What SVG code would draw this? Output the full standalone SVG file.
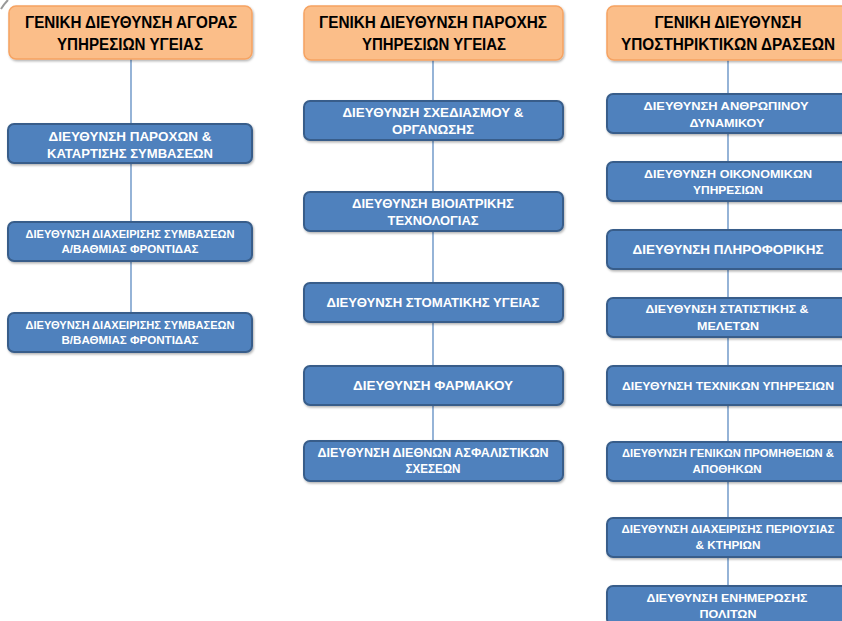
<svg xmlns="http://www.w3.org/2000/svg" width="842" height="621" viewBox="0 0 842 621">
<defs>
<filter id="sh" x="-5%" y="-10%" width="110%" height="130%">
<feDropShadow dx="1" dy="1.5" stdDeviation="1.2" flood-color="#000" flood-opacity="0.3"/>
</filter>
</defs>
<style>
.hd{fill:#FBBE89;stroke:#F6A362;stroke-width:1.5;filter:url(#sh)}
.bx{fill:#4F81BD;stroke:#385D8A;stroke-width:2;filter:url(#sh)}
.ht{font-family:"Liberation Sans",Arial,sans-serif;font-weight:bold;font-size:16px;fill:#000;text-anchor:middle}
.bt{font-family:"Liberation Sans",Arial,sans-serif;font-weight:bold;font-size:13.5px;fill:#fff;text-anchor:middle}
.st{font-family:"Liberation Sans",Arial,sans-serif;font-weight:bold;font-size:11px;fill:#fff;text-anchor:middle}
.cn{stroke:#4F81BD;stroke-width:1.2;fill:none}
</style>
<rect width="842" height="621" fill="#fff"/>
<path d="M1,9 Q4,4 8,0" stroke="#9a9a9a" stroke-width="2" fill="none"/>
<g id="connectors">
<line class="cn" x1="131" y1="59" x2="131" y2="124"/>
<line class="cn" x1="131" y1="163" x2="131" y2="222"/>
<line class="cn" x1="131" y1="261" x2="131" y2="313"/>
<line class="cn" x1="433" y1="60" x2="433" y2="101"/>
<line class="cn" x1="433" y1="140" x2="433" y2="192"/>
<line class="cn" x1="433" y1="231" x2="433" y2="283"/>
<line class="cn" x1="433" y1="322" x2="433" y2="366"/>
<line class="cn" x1="433" y1="405" x2="433" y2="441"/>
<line class="cn" x1="728" y1="60" x2="728" y2="94"/>
<line class="cn" x1="728" y1="133" x2="728" y2="162"/>
<line class="cn" x1="728" y1="201" x2="728" y2="230"/>
<line class="cn" x1="728" y1="269" x2="728" y2="298"/>
<line class="cn" x1="728" y1="337" x2="728" y2="366"/>
<line class="cn" x1="728" y1="405" x2="728" y2="442"/>
<line class="cn" x1="728" y1="481" x2="728" y2="518"/>
<line class="cn" x1="728" y1="557" x2="728" y2="586"/>
</g>
<!-- Column 1 -->
<g id="h1"><rect class="hd" x="9" y="6" width="243" height="53" rx="7"/>
<text class="ht" x="131" y="28" textLength="212" lengthAdjust="spacingAndGlyphs">ΓΕΝΙΚΗ ΔΙΕΥΘΥΝΣΗ ΑΓΟΡΑΣ</text>
<text class="ht" x="130" y="50" textLength="146" lengthAdjust="spacingAndGlyphs">ΥΠΗΡΕΣΙΩΝ ΥΓΕΙΑΣ</text></g>
<g id="n1a"><rect class="bx" x="8" y="124" width="244" height="39" rx="6"/>
<text class="bt" x="130" y="141" textLength="163" lengthAdjust="spacingAndGlyphs">ΔΙΕΥΘΥΝΣΗ ΠΑΡΟΧΩΝ &amp;</text>
<text class="bt" x="130" y="158" textLength="166" lengthAdjust="spacingAndGlyphs">ΚΑΤΑΡΤΙΣΗΣ ΣΥΜΒΑΣΕΩΝ</text></g>
<g id="n1b"><rect class="bx" x="8" y="222" width="244" height="39" rx="6"/>
<text class="st" x="130" y="238" textLength="209" lengthAdjust="spacingAndGlyphs">ΔΙΕΥΘΥΝΣΗ ΔΙΑΧΕΙΡΙΣΗΣ ΣΥΜΒΑΣΕΩΝ</text>
<text class="st" x="130" y="253" textLength="137" lengthAdjust="spacingAndGlyphs">Α/ΒΑΘΜΙΑΣ ΦΡΟΝΤΙΔΑΣ</text></g>
<g id="n1c"><rect class="bx" x="8" y="313" width="244" height="39" rx="6"/>
<text class="st" x="130" y="329" textLength="209" lengthAdjust="spacingAndGlyphs">ΔΙΕΥΘΥΝΣΗ ΔΙΑΧΕΙΡΙΣΗΣ ΣΥΜΒΑΣΕΩΝ</text>
<text class="st" x="130" y="344" textLength="137" lengthAdjust="spacingAndGlyphs">Β/ΒΑΘΜΙΑΣ ΦΡΟΝΤΙΔΑΣ</text></g>
<!-- Column 2 -->
<g id="h2"><rect class="hd" x="304" y="6" width="259" height="54" rx="7"/>
<text class="ht" x="433" y="28" textLength="228" lengthAdjust="spacingAndGlyphs">ΓΕΝΙΚΗ ΔΙΕΥΘΥΝΣΗ ΠΑΡΟΧΗΣ</text>
<text class="ht" x="434" y="50" textLength="144" lengthAdjust="spacingAndGlyphs">ΥΠΗΡΕΣΙΩΝ ΥΓΕΙΑΣ</text></g>
<g id="n2a"><rect class="bx" x="304" y="101" width="259" height="39" rx="6"/>
<text class="bt" x="433" y="117" textLength="181" lengthAdjust="spacingAndGlyphs">ΔΙΕΥΘΥΝΣΗ ΣΧΕΔΙΑΣΜΟΥ &amp;</text>
<text class="bt" x="433" y="134" textLength="82" lengthAdjust="spacingAndGlyphs">ΟΡΓΑΝΩΣΗΣ</text></g>
<g id="n2b"><rect class="bx" x="304" y="192" width="259" height="39" rx="6"/>
<text class="bt" x="433" y="208" textLength="162" lengthAdjust="spacingAndGlyphs">ΔΙΕΥΘΥΝΣΗ ΒΙΟΙΑΤΡΙΚΗΣ</text>
<text class="bt" x="433" y="225" textLength="91" lengthAdjust="spacingAndGlyphs">ΤΕΧΝΟΛΟΓΙΑΣ</text></g>
<g id="n2c"><rect class="bx" x="304" y="283" width="259" height="39" rx="6"/>
<text class="bt" x="433" y="307" textLength="213" lengthAdjust="spacingAndGlyphs">ΔΙΕΥΘΥΝΣΗ ΣΤΟΜΑΤΙΚΗΣ ΥΓΕΙΑΣ</text></g>
<g id="n2d"><rect class="bx" x="304" y="366" width="259" height="39" rx="6"/>
<text class="bt" x="433" y="390" textLength="160" lengthAdjust="spacingAndGlyphs">ΔΙΕΥΘΥΝΣΗ ΦΑΡΜΑΚΟΥ</text></g>
<g id="n2e"><rect class="bx" x="304" y="441" width="259" height="40" rx="6"/>
<text class="bt" x="433" y="457" textLength="231" lengthAdjust="spacingAndGlyphs">ΔΙΕΥΘΥΝΣΗ ΔΙΕΘΝΩΝ ΑΣΦΑΛΙΣΤΙΚΩΝ</text>
<text class="bt" x="433" y="473" textLength="55" lengthAdjust="spacingAndGlyphs">ΣΧΕΣΕΩΝ</text></g>
<!-- Column 3 -->
<g id="h3"><rect class="hd" x="607" y="6" width="243" height="54" rx="7"/>
<text class="ht" x="728" y="28" textLength="147" lengthAdjust="spacingAndGlyphs">ΓΕΝΙΚΗ ΔΙΕΥΘΥΝΣΗ</text>
<text class="ht" x="728" y="50" textLength="214" lengthAdjust="spacingAndGlyphs">ΥΠΟΣΤΗΡΙΚΤΙΚΩΝ ΔΡΑΣΕΩΝ</text></g>
<g id="n3a"><rect class="bx" x="607" y="94" width="243" height="39" rx="6"/>
<text class="st" x="726" y="110" textLength="165" lengthAdjust="spacingAndGlyphs">ΔΙΕΥΘΥΝΣΗ ΑΝΘΡΩΠΙΝΟΥ</text>
<text class="st" x="727" y="127" textLength="75" lengthAdjust="spacingAndGlyphs">ΔΥΝΑΜΙΚΟΥ</text></g>
<g id="n3b"><rect class="bx" x="607" y="162" width="243" height="39" rx="6"/>
<text class="st" x="728" y="178" textLength="168" lengthAdjust="spacingAndGlyphs">ΔΙΕΥΘΥΝΣΗ ΟΙΚΟΝΟΜΙΚΩΝ</text>
<text class="st" x="728" y="194" textLength="70" lengthAdjust="spacingAndGlyphs">ΥΠΗΡΕΣΙΩΝ</text></g>
<g id="n3c"><rect class="bx" x="607" y="230" width="243" height="39" rx="6"/>
<text class="bt" x="728" y="254" textLength="191" lengthAdjust="spacingAndGlyphs">ΔΙΕΥΘΥΝΣΗ ΠΛΗΡΟΦΟΡΙΚΗΣ</text></g>
<g id="n3d"><rect class="bx" x="607" y="298" width="243" height="39" rx="6"/>
<text class="st" x="727" y="313" textLength="163" lengthAdjust="spacingAndGlyphs">ΔΙΕΥΘΥΝΣΗ ΣΤΑΤΙΣΤΙΚΗΣ &amp;</text>
<text class="st" x="728" y="330" textLength="62" lengthAdjust="spacingAndGlyphs">ΜΕΛΕΤΩΝ</text></g>
<g id="n3e"><rect class="bx" x="607" y="366" width="243" height="39" rx="6"/>
<text class="st" x="728" y="390" textLength="212" lengthAdjust="spacingAndGlyphs">ΔΙΕΥΘΥΝΣΗ ΤΕΧΝΙΚΩΝ ΥΠΗΡΕΣΙΩΝ</text></g>
<g id="n3f"><rect class="bx" x="607" y="442" width="243" height="39" rx="6"/>
<text class="st" x="728" y="457" textLength="212" lengthAdjust="spacingAndGlyphs">ΔΙΕΥΘΥΝΣΗ ΓΕΝΙΚΩΝ ΠΡΟΜΗΘΕΙΩΝ &amp;</text>
<text class="st" x="727" y="473" textLength="69" lengthAdjust="spacingAndGlyphs">ΑΠΟΘΗΚΩΝ</text></g>
<g id="n3g"><rect class="bx" x="607" y="518" width="243" height="39" rx="6"/>
<text class="st" x="728" y="533" textLength="213" lengthAdjust="spacingAndGlyphs">ΔΙΕΥΘΥΝΣΗ ΔΙΑΧΕΙΡΙΣΗΣ ΠΕΡΙΟΥΣΙΑΣ</text>
<text class="st" x="728" y="549" textLength="65" lengthAdjust="spacingAndGlyphs">&amp; ΚΤΗΡΙΩΝ</text></g>
<g id="n3h"><rect class="bx" x="607" y="586" width="243" height="39" rx="6"/>
<text class="st" x="727" y="602" textLength="161" lengthAdjust="spacingAndGlyphs">ΔΙΕΥΘΥΝΣΗ ΕΝΗΜΕΡΩΣΗΣ</text>
<text class="st" x="728" y="618" textLength="57" lengthAdjust="spacingAndGlyphs">ΠΟΛΙΤΩΝ</text></g>
</svg>
